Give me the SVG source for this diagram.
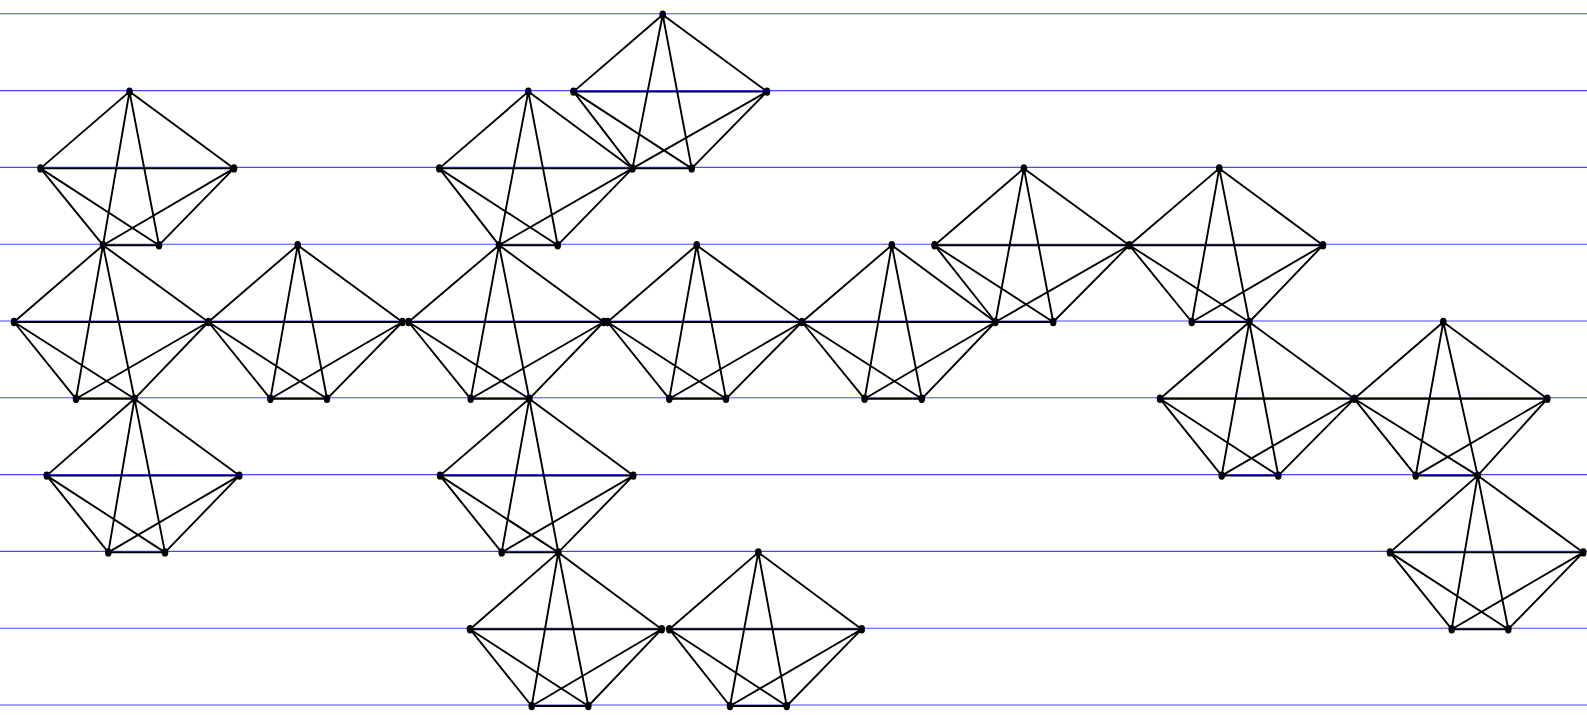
<svg xmlns="http://www.w3.org/2000/svg" xmlns:xlink="http://www.w3.org/1999/xlink" width="1587" height="715" viewBox="0 0 1587 715">
<style>
.bl{stroke:#4646ff;stroke-width:1.1;fill:none}
.e{stroke:#000;stroke-width:1.9;fill:none;stroke-linecap:round;stroke-linejoin:round}
.n{fill:#000}
</style>
<defs>
<ellipse id="d" class="n" cx="0" cy="0" rx="3.3" ry="4.2"/>
</defs>
<rect width="1587" height="715" fill="#fff"/>
<g id="rules" class="bl">
<line x1="0" y1="13.8" x2="1587" y2="13.8"/>
<line x1="0" y1="90.6" x2="1587" y2="90.6"/>
<line x1="0" y1="167.4" x2="1587" y2="167.4"/>
<line x1="0" y1="244.2" x2="1587" y2="244.2"/>
<line x1="0" y1="321" x2="1587" y2="321"/>
<line x1="0" y1="397.8" x2="1587" y2="397.8"/>
<line x1="0" y1="474.6" x2="1587" y2="474.6"/>
<line x1="0" y1="551.4" x2="1587" y2="551.4"/>
<line x1="0" y1="628.2" x2="1587" y2="628.2"/>
<line x1="0" y1="705" x2="1587" y2="705"/>
</g>
<g id="connectors" class="e" transform="translate(0,1)">
<path id="k1" d="M40.5,167.4 L129.5,90.6 L234,167.4 L40.5,167.4 L103,244.2 L159,244.2 L234,167.4 M103,244.2 L129.5,90.6 L159,244.2 L40.5,167.4 M234,167.4 L103,244.2"/>
<path id="k2" d="M14,321 L103,244.2 L208.4,321 L14,321 L76,397.8 L134.5,397.8 L208.4,321 M76,397.8 L103,244.2 L134.5,397.8 L14,321 M208.4,321 L76,397.8"/>
<path id="k3" d="M208.4,321 L297.7,244.2 L402.4,321 L208.4,321 L270.4,397.8 L327,397.8 L402.4,321 M270.4,397.8 L297.7,244.2 L327,397.8 L208.4,321 M402.4,321 L270.4,397.8"/>
<path id="k4" d="M46.7,474.6 L134.5,397.8 L239.3,474.6 L46.7,474.6 L108.3,551.4 L165,551.4 L239.3,474.6 M108.3,551.4 L134.5,397.8 L165,551.4 L46.7,474.6 M239.3,474.6 L108.3,551.4"/>
<path id="k5" d="M439.3,167.4 L528.3,90.6 L632.5,167.4 L439.3,167.4 L499,244.2 L557.7,244.2 L632.5,167.4 M499,244.2 L528.3,90.6 L557.7,244.2 L439.3,167.4 M632.5,167.4 L499,244.2"/>
<path id="k6" d="M573.5,90.6 L662.7,13.8 L767,90.6 L573.5,90.6 L632.5,167.4 L691.7,167.4 L767,90.6 M632.5,167.4 L662.7,13.8 L691.7,167.4 L573.5,90.6 M767,90.6 L632.5,167.4"/>
<path id="k7" d="M408.5,321 L499,244.2 L603.7,321 L408.5,321 L470.7,397.8 L529.3,397.8 L603.7,321 M470.7,397.8 L499,244.2 L529.3,397.8 L408.5,321 M603.7,321 L470.7,397.8"/>
<path id="k8" d="M440,474.6 L529.3,397.8 L633.3,474.6 L440,474.6 L501.7,551.4 L558.3,551.4 L633.3,474.6 M501.7,551.4 L529.3,397.8 L558.3,551.4 L440,474.6 M633.3,474.6 L501.7,551.4"/>
<path id="k9" d="M470,628.2 L558.3,551.4 L661.7,628.2 L470,628.2 L531.7,705 L588.3,705 L661.7,628.2 M531.7,705 L558.3,551.4 L588.3,705 L470,628.2 M661.7,628.2 L531.7,705"/>
<path id="k10" d="M669.3,628.2 L758.3,551.4 L861.7,628.2 L669.3,628.2 L730,705 L786.7,705 L861.7,628.2 M730,705 L758.3,551.4 L786.7,705 L669.3,628.2 M861.7,628.2 L730,705"/>
<path id="k11" d="M607.5,321 L696.7,244.2 L802,321 L607.5,321 L669.3,397.8 L726,397.8 L802,321 M669.3,397.8 L696.7,244.2 L726,397.8 L607.5,321 M802,321 L669.3,397.8"/>
<path id="k12" d="M802,321 L891.8,244.2 L995.4,321 L802,321 L864.6,397.8 L921.8,397.8 L995.4,321 M864.6,397.8 L891.8,244.2 L921.8,397.8 L802,321 M995.4,321 L864.6,397.8"/>
<path id="k13" d="M934.6,244.2 L1023.9,167.4 L1129.3,244.2 L934.6,244.2 L995.4,321 L1053.2,321 L1129.3,244.2 M995.4,321 L1023.9,167.4 L1053.2,321 L934.6,244.2 M1129.3,244.2 L995.4,321"/>
<path id="k14" d="M1129.3,244.2 L1219.3,167.4 L1323,244.2 L1129.3,244.2 L1191.8,321 L1249.3,321 L1323,244.2 M1191.8,321 L1219.3,167.4 L1249.3,321 L1129.3,244.2 M1323,244.2 L1191.8,321"/>
<path id="k15" d="M1160,397.8 L1249.3,321 L1354.3,397.8 L1160,397.8 L1221.7,474.6 L1278.3,474.6 L1354.3,397.8 M1221.7,474.6 L1249.3,321 L1278.3,474.6 L1160,397.8 M1354.3,397.8 L1221.7,474.6"/>
<path id="k16" d="M1354.3,397.8 L1443.3,321 L1547.3,397.8 L1354.3,397.8 L1415.7,474.6 L1477.7,474.6 L1547.3,397.8 M1415.7,474.6 L1443.3,321 L1477.7,474.6 L1354.3,397.8 M1547.3,397.8 L1415.7,474.6"/>
<path id="k17" d="M1390,551.4 L1477.7,474.6 L1583.3,551.4 L1390,551.4 L1451.7,628.2 L1508.3,628.2 L1583.3,551.4 M1451.7,628.2 L1477.7,474.6 L1508.3,628.2 L1390,551.4 M1583.3,551.4 L1451.7,628.2"/>
</g>
<g id="nodes" transform="translate(0,1)">
<g id="n0a"><use xlink:href="#d" x="662.7" y="13.8"/></g>
<g id="n1a"><use xlink:href="#d" x="129.5" y="90.6"/></g>
<g id="n1b"><use xlink:href="#d" x="528.3" y="90.6"/></g>
<g id="n1c"><use xlink:href="#d" x="573.5" y="90.6"/></g>
<g id="n1d"><use xlink:href="#d" x="767" y="90.6"/></g>
<g id="n2a"><use xlink:href="#d" x="40.5" y="167.4"/></g>
<g id="n2b"><use xlink:href="#d" x="234" y="167.4"/></g>
<g id="n2c"><use xlink:href="#d" x="439.3" y="167.4"/></g>
<g id="n2d"><use xlink:href="#d" x="632.5" y="167.4"/></g>
<g id="n2e"><use xlink:href="#d" x="691.7" y="167.4"/></g>
<g id="n2f"><use xlink:href="#d" x="1023.9" y="167.4"/></g>
<g id="n2g"><use xlink:href="#d" x="1219.3" y="167.4"/></g>
<g id="n3a"><use xlink:href="#d" x="103" y="244.2"/></g>
<g id="n3b"><use xlink:href="#d" x="159" y="244.2"/></g>
<g id="n3c"><use xlink:href="#d" x="297.7" y="244.2"/></g>
<g id="n3d"><use xlink:href="#d" x="499" y="244.2"/></g>
<g id="n3e"><use xlink:href="#d" x="557.7" y="244.2"/></g>
<g id="n3f"><use xlink:href="#d" x="696.7" y="244.2"/></g>
<g id="n3g"><use xlink:href="#d" x="891.8" y="244.2"/></g>
<g id="n3h"><use xlink:href="#d" x="934.6" y="244.2"/></g>
<g id="n3i"><use xlink:href="#d" x="1129.3" y="244.2"/></g>
<g id="n3j"><use xlink:href="#d" x="1323" y="244.2"/></g>
<g id="n4a"><use xlink:href="#d" x="14" y="321"/></g>
<g id="n4b"><use xlink:href="#d" x="208.4" y="321"/></g>
<g id="n4c"><use xlink:href="#d" x="402.4" y="321"/></g>
<g id="n4d"><use xlink:href="#d" x="408.5" y="321"/></g>
<g id="n4e"><use xlink:href="#d" x="603.7" y="321"/></g>
<g id="n4f"><use xlink:href="#d" x="607.5" y="321"/></g>
<g id="n4g"><use xlink:href="#d" x="802" y="321"/></g>
<g id="n4h"><use xlink:href="#d" x="995.4" y="321"/></g>
<g id="n4i"><use xlink:href="#d" x="1053.2" y="321"/></g>
<g id="n4j"><use xlink:href="#d" x="1191.8" y="321"/></g>
<g id="n4k"><use xlink:href="#d" x="1249.3" y="321"/></g>
<g id="n4l"><use xlink:href="#d" x="1443.3" y="321"/></g>
<g id="n5a"><use xlink:href="#d" x="76" y="397.8"/></g>
<g id="n5b"><use xlink:href="#d" x="134.5" y="397.8"/></g>
<g id="n5c"><use xlink:href="#d" x="270.4" y="397.8"/></g>
<g id="n5d"><use xlink:href="#d" x="327" y="397.8"/></g>
<g id="n5e"><use xlink:href="#d" x="470.7" y="397.8"/></g>
<g id="n5f"><use xlink:href="#d" x="529.3" y="397.8"/></g>
<g id="n5g"><use xlink:href="#d" x="669.3" y="397.8"/></g>
<g id="n5h"><use xlink:href="#d" x="726" y="397.8"/></g>
<g id="n5i"><use xlink:href="#d" x="864.6" y="397.8"/></g>
<g id="n5j"><use xlink:href="#d" x="921.8" y="397.8"/></g>
<g id="n5k"><use xlink:href="#d" x="1160" y="397.8"/></g>
<g id="n5l"><use xlink:href="#d" x="1354.3" y="397.8"/></g>
<g id="n5m"><use xlink:href="#d" x="1547.3" y="397.8"/></g>
<g id="n6a"><use xlink:href="#d" x="46.7" y="474.6"/></g>
<g id="n6b"><use xlink:href="#d" x="239.3" y="474.6"/></g>
<g id="n6c"><use xlink:href="#d" x="440" y="474.6"/></g>
<g id="n6d"><use xlink:href="#d" x="633.3" y="474.6"/></g>
<g id="n6e"><use xlink:href="#d" x="1221.7" y="474.6"/></g>
<g id="n6f"><use xlink:href="#d" x="1278.3" y="474.6"/></g>
<g id="n6g"><use xlink:href="#d" x="1415.7" y="474.6"/></g>
<g id="n6h"><use xlink:href="#d" x="1477.7" y="474.6"/></g>
<g id="n7a"><use xlink:href="#d" x="108.3" y="551.4"/></g>
<g id="n7b"><use xlink:href="#d" x="165" y="551.4"/></g>
<g id="n7c"><use xlink:href="#d" x="501.7" y="551.4"/></g>
<g id="n7d"><use xlink:href="#d" x="558.3" y="551.4"/></g>
<g id="n7e"><use xlink:href="#d" x="758.3" y="551.4"/></g>
<g id="n7f"><use xlink:href="#d" x="1390" y="551.4"/></g>
<g id="n7g"><use xlink:href="#d" x="1583.3" y="551.4"/></g>
<g id="n8a"><use xlink:href="#d" x="470" y="628.2"/></g>
<g id="n8b"><use xlink:href="#d" x="661.7" y="628.2"/></g>
<g id="n8c"><use xlink:href="#d" x="669.3" y="628.2"/></g>
<g id="n8d"><use xlink:href="#d" x="861.7" y="628.2"/></g>
<g id="n8e"><use xlink:href="#d" x="1451.7" y="628.2"/></g>
<g id="n8f"><use xlink:href="#d" x="1508.3" y="628.2"/></g>
<g id="n9a"><use xlink:href="#d" x="531.7" y="705"/></g>
<g id="n9b"><use xlink:href="#d" x="588.3" y="705"/></g>
<g id="n9c"><use xlink:href="#d" x="730" y="705"/></g>
<g id="n9d"><use xlink:href="#d" x="786.7" y="705"/></g>
</g>
</svg>
